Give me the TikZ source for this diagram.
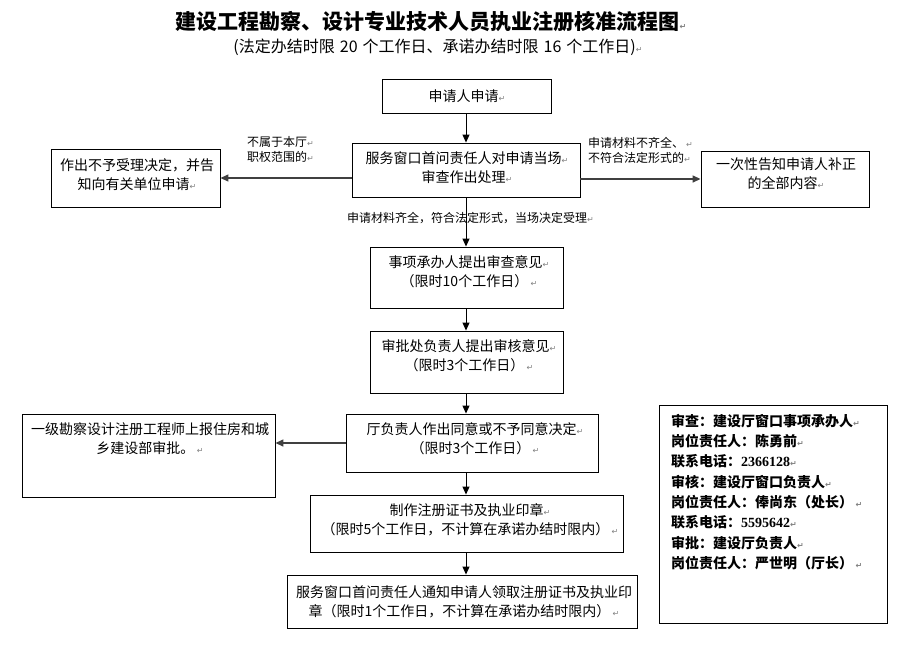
\documentclass[tikz,border=0pt]{standalone}
\usepackage{fontspec}
\setmainfont{Noto Sans CJK SC}
\newfontfamily\symfont{DejaVu Sans}
\newfontfamily\numfont{Liberation Serif}
\usetikzlibrary{arrows.meta}
\newcommand\parmark{{\symfont\fontsize{8}{8}\selectfont\textcolor{gray}{↵}}}
\begin{document}
\begin{tikzpicture}[x=1pt,y=-1pt,
  box/.style={draw, line width=0.9pt, inner sep=0pt},
  txt/.style={font=\fontsize{14}{19}\selectfont, align=center, inner sep=0pt},
  lbl/.style={font=\fontsize{12}{15}\selectfont, align=left, inner sep=0pt},
  ttl/.style={font=\fontsize{21}{24}\selectfont\bfseries, inner sep=0pt},
  subttl/.style={font=\fontsize{16}{18}\selectfont, inner sep=0pt},
  info/.style={font=\fontsize{14}{20.3}\selectfont\bfseries, align=left, inner sep=0pt},
  arr/.style={-{Triangle[length=8pt,width=7pt]}, line width=0.9pt},
  harr/.style={arr, line width=1.4pt, draw=black!75}]
\useasboundingbox (0,0) rectangle (913,651);
\coordinate (axis) at (466,0);

% title
\node[ttl] (title) at (431,22) {建设工程勘察、设计专业技术人员执业注册核准流程图\parmark};
\node[subttl] (subtitle) at (438,47) {(法定办结时限\hspace{5pt}20\hspace{5pt}个工作日、承诺办结时限\hspace{5pt}16\hspace{5pt}个工作日)\parmark};

% boxes
\node[box, minimum width=169pt, minimum height=34pt] (a) at (466.5,96) {};
\node[box, minimum width=228pt, minimum height=54pt] (b) at (466,170) {};
\node[box, minimum width=169pt, minimum height=58pt] (l1) at (135.5,178) {};
\node[box, minimum width=168pt, minimum height=56pt] (r1) at (785,179) {};
\node[box, minimum width=193pt, minimum height=61pt] (c) at (466.5,277.5) {};
\node[box, minimum width=193pt, minimum height=62pt] (d) at (466.5,362) {};
\node[box, minimum width=252pt, minimum height=58pt] (e) at (472,443) {};
\node[box, minimum width=253pt, minimum height=83pt] (l2) at (148.5,455.5) {};
\node[box, minimum width=313pt, minimum height=57pt] (f) at (466.5,523.5) {};
\node[box, minimum width=350pt, minimum height=53pt] (g) at (462,601.5) {};
\node[box, minimum width=228pt, minimum height=218pt] (infobox) at (773,514) {};

% box texts
\node[txt] (ta) at (467,96) {申请人申请\parmark};
\node[txt] (tb) at (467,168) {服务窗口首问责任人对申请当场\parmark\\审查作出处理\parmark};
\node[txt] (tl1) at (137,175) {作出不予受理决定，并告\\知向有关单位申请\parmark};
\node[txt] (tr1) at (786,174) {一次性告知申请人补正\\的全部内容\parmark};
\node[txt] (tc) at (469,271.5) {事项承办人提出审查意见\parmark\\（限时10个工作日）\,\parmark};
\node[txt] (td) at (469,356) {审批处负责人提出审核意见\parmark\\（限时3个工作日）\,\parmark};
\node[txt] (te) at (475,439) {厅负责人作出同意或不予同意决定\parmark\\（限时3个工作日）\,\parmark};
\node[txt] (tl2) at (150,439) {一级勘察设计注册工程师上报住房和城\\乡建设部审批。\,\parmark};
\node[txt] (tf) at (470,520) {制作注册证书及执业印章\parmark\\（限时5个工作日，不计算在承诺办结时限内）\,\parmark};
\node[txt] (tg) at (464,602) {服务窗口首问责任人通知申请人领取注册证书及执业印\\章（限时1个工作日，不计算在承诺办结时限内）\,\parmark};

% info text
\node[info, anchor=north west] (infotext) at (671,414) {审查：建设厅窗口事项承办人\parmark\\
岗位责任人：陈勇前\parmark\\
联系电话：{\numfont\bfseries 2366128}\parmark\\
审核：建设厅窗口负责人\parmark\\
岗位责任人：俸尚东（处长）\,\parmark\\
联系电话：{\numfont\bfseries 5595642}\parmark\\
审批：建设厅负责人\parmark\\
岗位责任人：严世明（厅长）\,\parmark};

% connectors
\draw[arr] (a.south -| axis) -- (b.north -| axis);
\draw[arr] (b.south -| axis) -- (c.north -| axis);
\draw[arr] (c.south -| axis) -- (d.north -| axis);
\draw[arr] (d.south -| axis) -- (e.north -| axis);
\draw[arr] (e.south -| axis) -- (f.north -| axis);
\draw[arr] (f.south -| axis) -- (g.north -| axis);
\draw[harr] (b.west |- l1.east) -- (l1.east);
\draw[harr] (b.east |- r1.west) -- (r1.west);
\draw[harr] (e.west) -- (e.west -| l2.east);

% connector labels
\node[lbl, anchor=west] (lbl1) at (247,149.5) {不属于本厅\parmark\\职权范围的\parmark};
\node[lbl, anchor=west] (lbl2) at (588,150) {申请材料不齐全、\,\parmark\\不符合法定形式的\parmark};
\node[lbl, anchor=west] (lbl3) at (347,218) {申请材料齐全，符合法定形式，当场决定受理\parmark};
\end{tikzpicture}
\end{document}
